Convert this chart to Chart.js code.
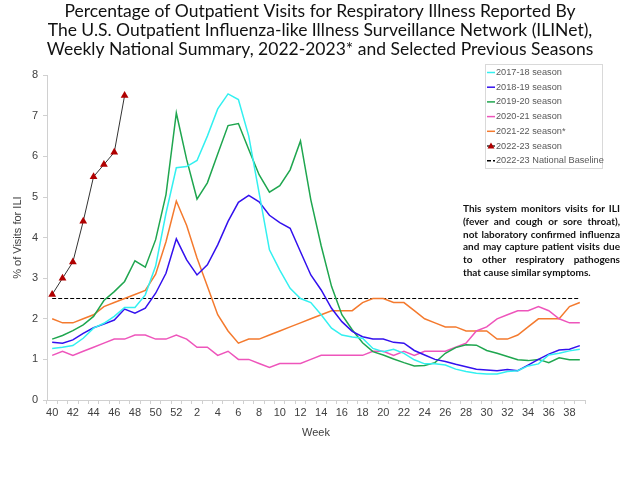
<!DOCTYPE html>
<html>
<head>
<meta charset="utf-8">
<script src="https://cdn.jsdelivr.net/npm/chart.js@4.4.1/dist/chart.umd.min.js"></script>
<style>
  html, body { margin: 0; padding: 0; background: #fff; }
  #wrap { position: relative; width: 640px; height: 480px; }
  #note {
    position: absolute; left: 463px; top: 202px; width: 157px;
    font: bold 10px Lato, sans-serif; line-height: 12.8px;
    color: #111; white-space: nowrap;
  }
  #note span { display: block; text-align: justify; text-align-last: justify; }
  #note span.last { text-align-last: left; }
</style>
</head>
<body>
<div id="wrap">
  <canvas id="myChart" width="640" height="480"></canvas>
  <div id="note"><span>This system monitors visits for ILI</span><span>(fever and cough or sore throat),</span><span>not laboratory confirmed influenza</span><span>and may capture patient visits due</span><span>to other respiratory pathogens</span><span class="last">that cause similar symptoms.</span></div>
</div>
<script>
// 週ラベル (40..52, 1..39)
var weeks = ['40','41','42','43','44','45','46','47','48','49','50','51','52',
  '1','2','3','4','5','6','7','8','9','10','11','12','13','14','15','16','17','18','19','20',
  '21','22','23','24','25','26','27','28','29','30','31','32','33','34','35','36','37','38','39'];

var s2017 = [1.27,1.3,1.34,1.52,1.77,1.89,2.06,2.28,2.28,2.59,3.3,4.6,5.72,
  5.75,5.9,6.5,7.17,7.54,7.4,6.5,5.1,3.7,3.2,2.75,2.5,2.4,2.1,1.77,1.6,1.55,1.52,1.27,1.19,
  1.25,1.15,0.99,0.89,0.89,0.86,0.76,0.7,0.66,0.64,0.64,0.7,0.72,0.84,0.89,1.11,1.15,1.21,1.25];

var s2018 = [1.42,1.4,1.48,1.64,1.78,1.87,1.97,2.24,2.14,2.26,2.63,3.12,3.97,
  3.45,3.08,3.33,3.82,4.4,4.87,5.04,4.88,4.55,4.37,4.23,3.65,3.08,2.71,2.26,1.93,1.69,1.56,1.5,1.5,
  1.42,1.4,1.22,1.11,1.0,0.95,0.88,0.82,0.76,0.74,0.72,0.75,0.72,0.86,1.0,1.13,1.23,1.25,1.34];

var s2019 = [1.5,1.59,1.71,1.85,2.06,2.45,2.67,2.92,3.43,3.27,3.95,5.06,7.07,
  5.92,4.95,5.35,6.06,6.76,6.81,6.17,5.55,5.12,5.28,5.67,6.38,4.93,3.8,2.8,2.1,1.73,1.41,1.19,1.11,
  1.01,0.92,0.84,0.85,0.92,1.15,1.29,1.36,1.35,1.22,1.15,1.07,0.99,0.97,1.0,0.92,1.04,0.99,0.99];

var s2020 = [1.1,1.2,1.1,1.2,1.3,1.4,1.5,1.5,1.6,1.6,1.5,1.5,1.6,
  1.5,1.3,1.3,1.1,1.2,1.0,1.0,0.9,0.8,0.9,0.9,0.9,1.0,1.1,1.1,1.1,1.1,1.1,1.2,1.2,
  1.1,1.2,1.1,1.2,1.2,1.2,1.3,1.4,1.7,1.8,2.0,2.1,2.2,2.2,2.3,2.2,2.0,1.9,1.9];

var s2021 = [2.0,1.9,1.9,2.0,2.1,2.3,2.4,2.5,2.6,2.7,3.1,3.9,4.9,
  4.3,3.5,2.8,2.1,1.7,1.4,1.5,1.5,1.6,1.7,1.8,1.9,2.0,2.1,2.2,2.2,2.2,2.4,2.5,2.5,
  2.4,2.4,2.2,2.0,1.9,1.8,1.8,1.7,1.7,1.7,1.5,1.5,1.6,1.8,2.0,2.0,2.0,2.3,2.4];

var s2022 = [2.6,3.0,3.4,4.4,5.5,5.8,6.1,7.5];

var baselineValue = 2.5;
var baseline = weeks.map(function() { return baselineValue; });

var yTicks = [0,1,2,3,4,5,6,7,8];

// 凡例をチャート内に描く
var boxLegend = {
  id: 'boxLegend',
  afterDraw: function(chart) {
    var ctx = chart.ctx;
    var x = 485, y = 64, w = 117, h = 104;
    ctx.save();
    ctx.strokeStyle = '#d9d9d9';
    ctx.lineWidth = 1;
    ctx.strokeRect(x + 0.5, y + 0.5, w, h);
    ctx.font = '9.2px "Liberation Sans", Arial, sans-serif';
    ctx.textBaseline = 'middle';
    chart.data.datasets.forEach(function(ds, i) {
      var ly = y + 8.5 + i * 14.7;
      ctx.strokeStyle = ds.borderColor;
      ctx.lineWidth = 1.5;
      ctx.setLineDash(ds.borderDash || []);
      ctx.beginPath();
      ctx.moveTo(x + 2, ly);
      ctx.lineTo(x + 10, ly);
      ctx.stroke();
      ctx.setLineDash([]);
      if (ds.pointStyle === 'triangle') {
        ctx.fillStyle = ds.pointBackgroundColor;
        ctx.beginPath();
        ctx.moveTo(x + 6, ly - 3.5);
        ctx.lineTo(x + 9.5, ly + 2.5);
        ctx.lineTo(x + 2.5, ly + 2.5);
        ctx.closePath();
        ctx.fill();
      }
      ctx.fillStyle = '#595959';
      ctx.fillText(ds.label, x + 11, ly);
    });
    ctx.restore();
  }
};

function line(label, data, color, width) {
  return {
    label: label, data: data, borderColor: color, backgroundColor: color,
    borderWidth: width, pointRadius: 0, tension: 0, fill: false
  };
}

var axisFont = { family: '"Liberation Sans", Arial', size: 11 };

var ctx = document.getElementById('myChart').getContext('2d');
var myChart = new Chart(ctx, {
  type: 'line',
  data: {
    labels: weeks,
    datasets: [
      line('2017-18 season', s2017, '#33f0f0', 1.5),
      line('2018-19 season', s2018, '#3311ee', 1.5),
      line('2019-20 season', s2019, '#1fa64f', 1.5),
      line('2020-21 season', s2020, '#ee55bb', 1.5),
      line('2021-22 season*', s2021, '#f47a2e', 1.5),
      {
        label: '2022-23 season', data: s2022, borderColor: '#333333', borderWidth: 1,
        pointStyle: 'triangle', pointRadius: 4.5, pointBackgroundColor: '#b00000',
        pointBorderColor: '#b00000', pointBorderWidth: 0, tension: 0, fill: false
      },
      {
        label: '2022-23 National Baseline', data: baseline, borderColor: '#000000',
        borderWidth: 1.2, borderDash: [4, 2], pointRadius: 0, tension: 0, fill: false
      }
    ]
  },
  options: {
    responsive: false,
    animation: false,
    layout: { padding: { left: 0, right: 0, top: 0, bottom: 40 } },
    plugins: {
      legend: { display: false },
      tooltip: { enabled: false },
      title: {
        display: true,
        text: ['Percentage of Outpatient Visits for Respiratory Illness Reported By',
               'The U.S. Outpatient Influenza-like Illness Surveillance Network (ILINet),',
               'Weekly National Summary, 2022-2023* and Selected Previous Seasons'],
        color: '#111',
        font: { family: 'Lato', size: 17.5, weight: 'normal', lineHeight: 1.09 },
        padding: { top: 2, bottom: 16 }
      }
    },
    scales: {
      x: {
        offset: true,
        grid: { display: true, drawOnChartArea: false, offset: true, tickLength: 4, color: '#d0d0d0' },
        border: { color: '#d0d0d0' },
        ticks: {
          autoSkip: false, maxRotation: 0, padding: 2, color: '#404040', font: axisFont,
          callback: function(v, i) { return i % 2 === 0 ? weeks[i] : ''; }
        },
        title: { display: true, text: 'Week', color: '#404040', font: axisFont,
          padding: { top: 4, bottom: 0 } },
        afterFit: function(scale) { scale.height = 40; }
      },
      y: {
        min: 0, max: 8,
        afterBuildTicks: function(scale) { scale.ticks = yTicks.map(function(v) { return { value: v }; }); },
        grid: { display: true, drawOnChartArea: false, tickLength: 4, color: '#d0d0d0' },
        border: { color: '#d0d0d0' },
        ticks: { padding: 5, color: '#404040', font: axisFont },
        title: { display: true, text: '% of Visits for ILI', color: '#404040', font: axisFont,
          padding: { top: 11, bottom: 0 } },
        afterFit: function(scale) { scale.width = 47; }
      },
      // 右側の余白用（表示なし）
      yRight: {
        position: 'right',
        grid: { display: false },
        border: { display: false },
        ticks: { display: false },
        afterFit: function(scale) { scale.width = 55; }
      }
    }
  },
  plugins: [boxLegend]
});
</script>
</body>
</html>
